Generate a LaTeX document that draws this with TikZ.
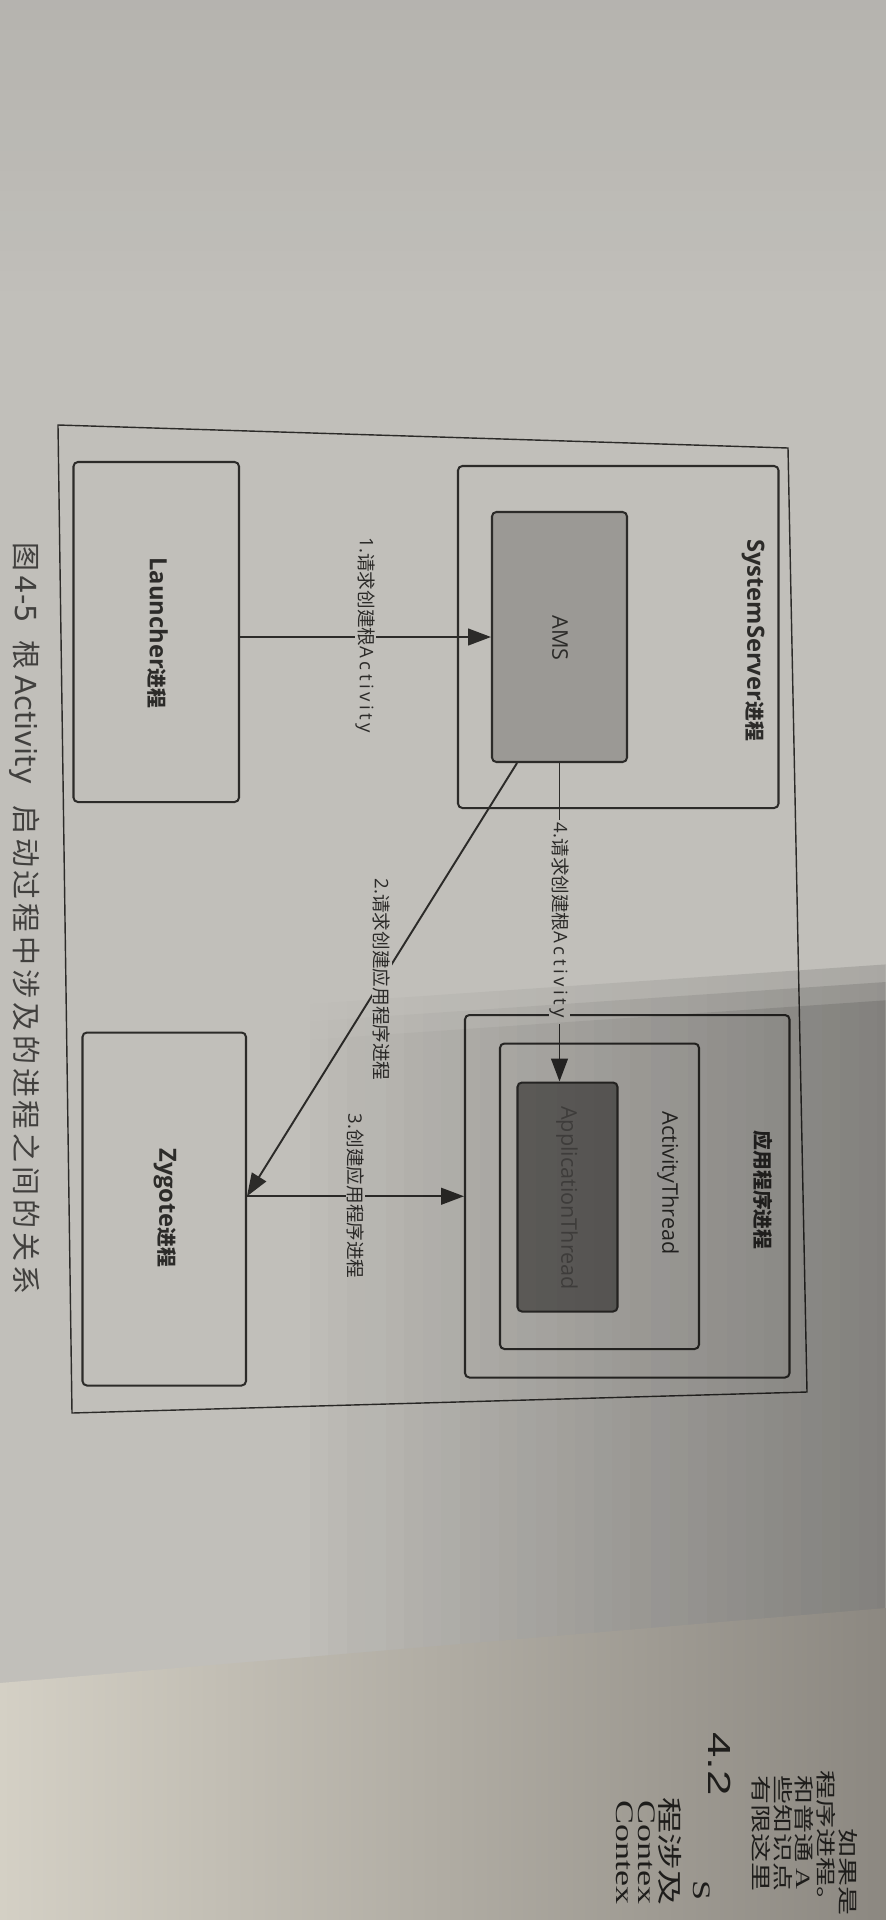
\documentclass[tikz,border=0pt]{standalone}
\usepackage{fontspec}
\setmainfont{Open Sans}
\newfontfamily\cjk{Noto Sans CJK SC}
\newfontfamily\capfont{DejaVu Sans}
\newfontfamily\headfont{Liberation Sans}
\newfontfamily\bodyfont{Liberation Serif}
\usetikzlibrary{arrows.meta,calc,fit,fadings}

\definecolor{paper}{HTML}{C1BFBA}
\definecolor{ink}{HTML}{2C2B29}
\definecolor{amsgray}{HTML}{9B9995}
\definecolor{threadgray}{HTML}{6A6865}
\definecolor{threadtext}{HTML}{4B4947}
\definecolor{pagelight}{HTML}{D4D0C5}
\definecolor{pagedark}{HTML}{8C8881}
\definecolor{printink}{HTML}{1E1D1B}

% CJK runs inside Latin text
\newcommand\zh[1]{{\cjk #1}}
\newcommand\zhb[1]{{\fontsize{11.3}{13}\selectfont\cjk #1}}
% tracked text: \trackby{kern}{letters}
\makeatletter
\def\trackby#1#2{\def\tr@k{#1}\tr@ck#2\relax}
\def\tr@ck#1{\ifx#1\relax\else#1\kern\tr@k\expandafter\tr@ck\fi}
\newcommand\spaced[1]{\trackby{2pt}{#1}}
\makeatother

\tikzfading[name=shadeR, left color=transparent!100, right color=transparent!0]
\tikzfading[name=shadeTop, top color=transparent!0, bottom color=transparent!100]

\begin{document}
\begin{tikzpicture}[x=0.02cm,y=-0.02cm,
  box/.style={draw=ink,line width=1.15pt,rounded corners=2.5pt,inner sep=0pt},
  frame/.style={draw=ink,line width=0.8pt},
  flow/.style={draw=ink,line width=1.1pt,-{Triangle[length=13pt,width=9.5pt]}},
  lbl/.style={fill=paper,inner xsep=1.5pt,inner ysep=0.5pt,rotate=-90,text=ink,
              font=\fontsize{10.6}{12}\selectfont},
  boldtxt/.style={rotate=-90,text=ink,font=\fontsize{13.5}{15}\selectfont\bfseries},
  plaintxt/.style={rotate=-90,text=ink,font=\fontsize{12.3}{14}\selectfont},
  pagetxt/.style={rotate=-90,anchor=west,inner sep=0pt,transform shape,text=printink,
                  font=\fontsize{16.5}{20}\selectfont\cjk},
  pagebig/.style={pagetxt,font=\fontsize{20.5}{24}\selectfont\cjk},
  pageserif/.style={pagetxt,font=\fontsize{20.5}{24}\selectfont\bodyfont},
]
% paper and page size
\fill[paper] (0,0) rectangle (886,1920);
\useasboundingbox (0,0) rectangle (886,1920);

% outer frame of the figure
\coordinate (f1) at (58,425);
\coordinate (f2) at (788,448);
\coordinate (f3) at (807,1392);
\coordinate (f4) at (72,1413);
\draw[frame] (f1) -- (f2) -- (f3) -- (f4) -- cycle;

% process boxes
\node[box, fit={(73.5,462) (239,802)}] (launcher) {};
\node[box, fit={(458,466) (778.5,808)}] (sysserver) {};
\node[box, fill=amsgray, fit={(492,512) (627,762)}] (ams) {};
\node[box, fit={(82.5,1032.5) (246,1385.5)}] (zygote) {};
\node[box, fit={(465,1015) (789.5,1377.5)}] (appproc) {};
\node[box, fit={(500,1043.5) (699,1349)}] (actthread) {};
\node[box, fill=threadgray, fit={(517.5,1082.5) (617.5,1311.5)}] (appthread) {};

% box titles
\node[boldtxt] (launchertxt) at (158,633) {Launcher\zhb{进程}};
\node[boldtxt] (sysservertxt) at (753,640) {SystemServer\zhb{进程}};
\node[plaintxt] (amstxt) at (560,638) {AMS};
\node[boldtxt] (zygotetxt) at (165,1208) {Zygote\zhb{进程}};
\node[boldtxt] (appproctxt) at (763,1190) {\zhb{应用程序进程}};
\node[plaintxt] (actthreadtxt) at (668,1183) {ActivityThread};
\node[plaintxt, text=threadtext] (appthreadtxt) at (567,1198) {ApplicationThread};

% connectors
\coordinate (amsout) at ($(ams.south west)!0.19!(ams.south east)$);
\coordinate (zygin) at (zygote.east |- appproc.west);
\draw[flow] (launcher.east |- ams.west) -- (ams.west)
  node[lbl, midway] (l1) {1.\zh{请求创建根}\spaced{Activity}};
\draw[flow] (amsout) -- (zygin)
  node[lbl, midway] (l2) {2.\zh{请求创建应用程序进程}};
\draw[flow] (zygin) -- (appproc.west)
  node[lbl, midway] (l3) {3.\zh{创建应用程序进程}};
\draw[flow] (ams.south) -- (ams.south |- appthread.north)
  node[lbl, midway] (l4) {4.\zh{请求创建根}\spaced{Activity}};

% caption
\node[rotate=-90, anchor=west, inner sep=0pt, text=ink!90,
      font=\fontsize{16.5}{20}\selectfont\cjk] (caption) at (25,542)
  {图\hspace{2.5pt}{\capfont 4-5}\hspace{10pt}根\hspace{3.5pt}{\capfont Activity}\hspace{12pt}\trackby{2.2pt}{启动过程中涉及的进程之间的关系}};

% light falloff on the page
\fill[black, opacity=0.06, path fading=shadeTop] (0,0) rectangle (886,300);
\foreach \k in {0,1,2}
  \fill[black, opacity=0.12, path fading=shadeR]
    (300,1040-\k*18) -- (886,1000-\k*18) -- (886,1640) -- (300,1680) -- cycle;

% next page below the edge
\shade[left color=pagelight, right color=pagedark]
  (0,1683) -- (886,1608) -- (886,1920) -- (0,1920) -- cycle;
\begin{scope}[xscale=0.7]
  \node[pagetxt] (p1) at (848/0.7,1828) {如果是};
  \node[pagetxt] (p2) at (826/0.7,1770) {程序进程。};
  \node[pagetxt] (p3) at (804/0.7,1775) {和普通 {\bodyfont A}};
  \node[pagetxt] (p4) at (783/0.7,1775) {些知识点};
  \node[pagetxt] (p5) at (761/0.7,1775) {有限这里};
  \node[pagetxt, font=\fontsize{26}{30}\selectfont\headfont] (p6) at (720/0.7,1732) {4.2};
  \node[pageserif] (p7) at (702/0.7,1880) {S};
  \node[pagebig] (p8) at (670/0.7,1797) {程涉及};
  \node[pageserif] (p9) at (647/0.7,1800) {Contex};
  \node[pageserif] (p10) at (625/0.7,1800) {Contex};
\end{scope}
\end{tikzpicture}
\end{document}
